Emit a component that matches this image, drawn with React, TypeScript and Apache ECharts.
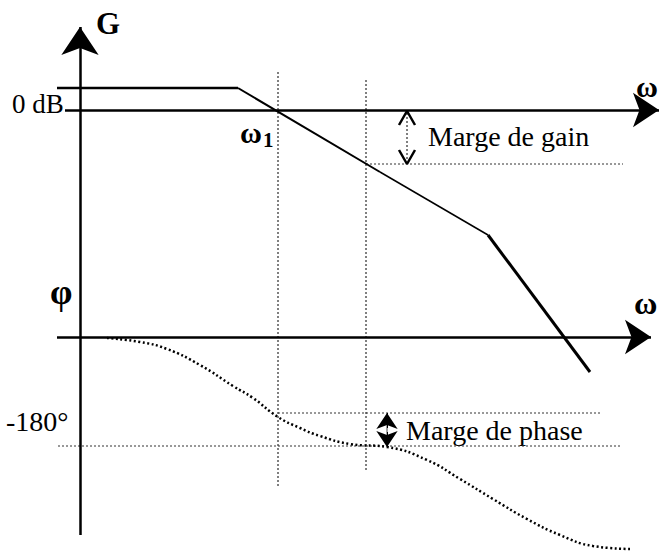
import React, { useEffect, useRef } from "react";
import * as echarts from "echarts";

// Diagram coordinates (x: log ω position, y: drawing units, downward)
const gainFlat = [[57, 88], [238, 88]];
const gainSlope1 = [[238, 88], [380, 172]];
const gainSlope1b = [[380, 172], [488, 235]];
const gainSlope2 = [[488, 235], [590, 372]];

const phaseCurve = [
  [107, 338], [140, 342], [167, 349], [200, 365], [233, 386], [253, 398],
  [278, 417], [300, 428], [320, 436], [350, 444], [387, 447], [427, 460],
  [460, 479], [493, 499], [527, 519], [560, 535], [593, 546], [630, 549],
];

const gAxis = [[80, 535], [80, 27]];
const gainAxis = [[65, 110], [659, 110]];
const phaseAxis = [[57, 337], [651, 337]];

const guideOmega1 = [[278, 72], [278, 487]];
const guideOmega2 = [[366, 80], [366, 470]];
const gainMarginRef = [[366, 164], [623, 164]];
const phaseMarginRef = [[278, 413], [600, 413]];
const phase180 = [[58, 446], [620, 446]];

const gainMarginShaft = [[407, 113], [407, 161]];
const gainMarginHeadTop = [[399, 125], [407, 111], [415, 125]];
const gainMarginHeadBottom = [[399, 150], [407, 164], [415, 150]];

const phaseMarginShaft = [[387, 418], [387, 442]];
const phaseMarginHeadTop = [[387, 428], [387, 413]];
const phaseMarginHeadBottom = [[387, 432], [387, 447]];

const labels = {
  g: "G",
  zeroDb: "0 dB",
  omega: "ω",
  omega1: "ω",
  omega1Sub: "1",
  phi: "φ",
  minus180: "-180°",
  gainMargin: "Marge de gain",
  phaseMargin: "Marge de phase",
};

const SERIF = '"Liberation Serif", "DejaVu Serif", serif';

function lineSeries(data: number[][], width: number, type: any = "solid", color = "#000", smooth = false) {
  return {
    type: "line",
    data,
    showSymbol: false,
    symbol: "none",
    smooth,
    lineStyle: { color, width, type, cap: "butt" },
    silent: true,
    z: 2,
  };
}

function arrowSeries(data: number[][], width: number, size: number[], color = "#000", both = false) {
  return {
    type: "lines",
    coordinateSystem: "cartesian2d",
    symbol: both ? ["arrow", "arrow"] : ["none", "arrow"],
    symbolSize: size,
    lineStyle: { color, width, opacity: 1 },
    data: [{ coords: data }],
    silent: true,
    z: 3,
  };
}

export default function App() {
  const ref = useRef<HTMLDivElement>(null);
  useEffect(() => {
    if (!ref.current) return;
    const chart = echarts.init(ref.current, undefined, { renderer: "svg" });
    const text = (t: string, x: number, y: number, size: number, bold = false, align = "left") => ({
      type: "text",
      x,
      y,
      silent: true,
      style: {
        text: t,
        font: `${bold ? "bold " : ""}${size}px ${SERIF}`,
        fill: "#000",
        align,
        verticalAlign: "middle",
      },
    });
    chart.setOption({
      animation: false,
      backgroundColor: "#fff",
      grid: { left: 0, right: 0, top: 0, bottom: 0 },
      xAxis: { type: "value", min: 0, max: 661, show: false },
      yAxis: { type: "value", min: 0, max: 552, inverse: true, show: false },
      series: [
        arrowSeries(gAxis, 2.5, [24, 28]),
        arrowSeries(gainAxis, 2.5, [28, 26]),
        arrowSeries(phaseAxis, 2.5, [28, 26]),
        lineSeries(guideOmega1, 1, [2, 2]),
        lineSeries(guideOmega2, 1, [2, 2]),
        lineSeries(gainMarginRef, 1, [2, 2], "#333"),
        lineSeries(phaseMarginRef, 1, [2, 2], "#333"),
        lineSeries(phase180, 1, [2, 2], "#333"),
        lineSeries(gainFlat, 2.5),
        lineSeries(gainSlope1, 2),
        lineSeries(gainSlope1b, 1.5),
        lineSeries(gainSlope2, 3),
        lineSeries(phaseCurve, 2.5, [2, 2.5], "#000", true),
        lineSeries(gainMarginShaft, 1, [2, 2]),
        lineSeries(gainMarginHeadTop, 2.5),
        lineSeries(gainMarginHeadBottom, 2.5),
        lineSeries(phaseMarginShaft, 1.5, "solid", "#888"),
        arrowSeries(phaseMarginHeadTop, 1, [18, 16]),
        arrowSeries(phaseMarginHeadBottom, 1, [18, 16]),
      ],
      graphic: [
        text(labels.g, 96, 23, 31, true),
        text(labels.zeroDb, 12, 104, 27),
        text(labels.omega, 636, 86, 30, true),
        text(labels.omega, 634, 303, 32, true),
        text(labels.omega1, 240, 132, 30, true),
        text(labels.omega1Sub, 263, 140, 21, true),
        text(labels.phi, 50, 292, 36, true),
        text(labels.minus180, 6, 421, 28),
        text(labels.gainMargin, 428, 136, 28),
        text(labels.phaseMargin, 406, 430, 28),
      ],
    });
    return () => chart.dispose();
  }, []);
  return (
    <div
      ref={ref}
      style={{ position: "fixed", left: 0, top: 0, width: 661, height: 552, background: "#fff" }}
    />
  );
}
